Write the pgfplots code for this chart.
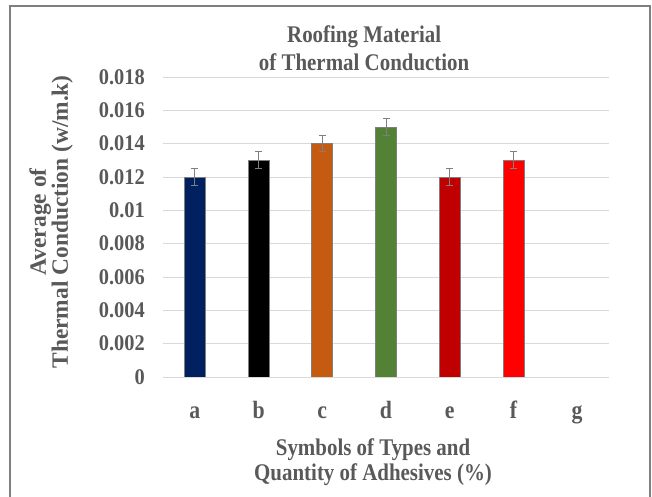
\documentclass[border=0pt]{standalone}
\usepackage{pgfplots}
\pgfplotsset{compat=1.18}
\usepackage{fontspec}
\setmainfont{Liberation Serif}
\newfontfamily\cond[FakeStretch=0.875]{Liberation Serif}
\newfontfamily\condt[FakeStretch=0.91]{Liberation Serif}
\definecolor{txt}{HTML}{595959}
\definecolor{gridc}{HTML}{D9D9D9}
\definecolor{ca}{HTML}{002060}
\definecolor{cb}{HTML}{000000}
\definecolor{cc}{HTML}{C55A11}
\definecolor{cd}{HTML}{538135}
\definecolor{ce}{HTML}{C00000}
\definecolor{cf}{HTML}{FF0000}
\definecolor{errc}{HTML}{7F7F7F}
\begin{document}
\begin{tikzpicture}[x=1bp,y=1bp]
\useasboundingbox (0,0) rectangle (652,497);
\draw[color=errc, line width=1.2bp] (10,0) -- (10,491) -- (650,491) -- (650,0);
\begin{axis}[
  at={(163bp,120bp)}, anchor=south west,
  scale only axis, width=446bp, height=300bp,
  xmin=-0.5, xmax=6.5, ymin=0, ymax=0.018,
  scaled y ticks=false,
  axis line style={draw=none},
  major tick length=0pt,
  ymajorgrids, grid style={gridc, line width=0.9bp},
  ytick={0,0.002,0.004,0.006,0.008,0.01,0.012,0.014,0.016,0.018},
  yticklabels={0,0.002,0.004,0.006,0.008,0.01,0.012,0.014,0.016,0.018},
  xtick={0,1,2,3,4,5,6},
  xticklabels={a,b,c,d,e,f,g},
  tick label style={font=\condt\fontsize{22.5}{25}\selectfont\bfseries, text=txt},
  yticklabel style={anchor=east, inner sep=0pt, xshift=-18bp},
  xticklabel style={anchor=base, inner sep=0pt, yshift=-42bp, font=\cond\fontsize{25}{25}\selectfont\bfseries},
  title={Roofing Material\\of Thermal Conduction},
  title style={at={(axis description cs:0.451,1.075)}, anchor=center, align=center, font=\cond\fontsize{24}{28}\selectfont\bfseries, text=txt},
  xlabel={Symbols of Types and\\Quantity of Adhesives (\%)},
  xlabel style={at={(axis description cs:0.471,-0.284)}, anchor=center, align=center, font=\cond\fontsize{24}{25}\selectfont\bfseries, text=txt},
  ylabel={Average of\\Thermal Conduction (w/m.k)},
  ylabel style={at={(axis description cs:-0.251,0.517)}, anchor=center, align=center, font=\fontsize{23.5}{22}\selectfont\bfseries, text=txt},
  every axis plot/.append style={ybar, bar width=21bp, bar shift=0pt, draw=errc, line width=0.6bp,
    error bars/y dir=both, error bars/y explicit,
    error bars/error bar style={color=errc, line width=1bp},
    error bars/error mark options={rotate=90, mark size=3.5bp, color=errc, line width=1bp}},
]
\addplot[fill=ca] coordinates {(0,0.012) +- (0,0.0005)};
\addplot[fill=cb] coordinates {(1,0.013) +- (0,0.0005)};
\addplot[fill=cc] coordinates {(2,0.014) +- (0,0.0005)};
\addplot[fill=cd] coordinates {(3,0.015) +- (0,0.0005)};
\addplot[fill=ce] coordinates {(4,0.012) +- (0,0.0005)};
\addplot[fill=cf] coordinates {(5,0.013) +- (0,0.0005)};
\end{axis}
\end{tikzpicture}
\end{document}
